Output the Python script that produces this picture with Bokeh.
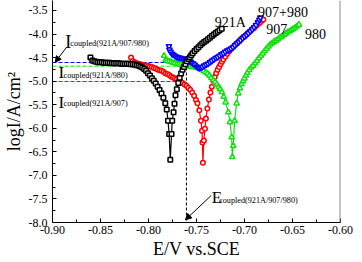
from bokeh.plotting import figure
from bokeh.models import FixedTicker, Label, Arrow, NormalHead, Span
from bokeh.embed import file_html
from bokeh.resources import INLINE

# Potentiodynamic polarisation curves (E in V vs. SCE, log current density)
e_921a = [-0.8605, -0.8585, -0.8565, -0.8545, -0.8525, -0.8505, -0.8485, -0.8465,
          -0.8445, -0.8425, -0.8405, -0.8385, -0.8365, -0.8345, -0.8325, -0.8305,
          -0.8285, -0.8265, -0.8245, -0.8225, -0.8205, -0.8185, -0.8165, -0.8145,
          -0.8125, -0.8105, -0.8085, -0.8065, -0.8045, -0.8025, -0.8005, -0.7985,
          -0.7965, -0.7945, -0.7925, -0.7905, -0.7885, -0.7865, -0.7845, -0.7825,
          -0.7810, -0.7797, -0.7785, -0.7773,
          -0.7760, -0.7753, -0.7739, -0.7729, -0.7719, -0.7705, -0.7690, -0.7675,
          -0.7660, -0.7645, -0.7630, -0.7615, -0.7600, -0.7585, -0.7570, -0.7555,
          -0.7540, -0.7520, -0.7500, -0.7480, -0.7460, -0.7440, -0.7420, -0.7400,
          -0.7380, -0.7360, -0.7340, -0.7320, -0.7300, -0.7280, -0.7260, -0.7237]
i_921a = [-4.50, -4.56, -4.58, -4.59, -4.60, -4.60, -4.60, -4.61,
          -4.61, -4.61, -4.61, -4.62, -4.62, -4.62, -4.62, -4.62,
          -4.63, -4.63, -4.63, -4.63, -4.63, -4.64, -4.64, -4.65,
          -4.66, -4.67, -4.69, -4.71, -4.74, -4.78, -4.83, -4.88,
          -4.94, -4.99, -5.05, -5.12, -5.19, -5.26, -5.35, -5.47,
          -5.60, -5.84, -6.12, -6.67,
          -6.12, -5.84, -5.66, -5.48, -5.30, -5.17, -5.04, -4.93,
          -4.84, -4.76, -4.70, -4.64, -4.58, -4.53, -4.49, -4.45,
          -4.41, -4.36, -4.32, -4.28, -4.24, -4.20, -4.17, -4.14,
          -4.11, -4.08, -4.04, -4.01, -3.98, -3.95, -3.92, -3.89]

e_907 = [-0.8182, -0.8165, -0.8145, -0.8125, -0.8105, -0.8085, -0.8065, -0.8045,
         -0.8025, -0.8005, -0.7985, -0.7965, -0.7945, -0.7925, -0.7905, -0.7885,
         -0.7865, -0.7845, -0.7825, -0.7805, -0.7785, -0.7765, -0.7745, -0.7725,
         -0.7705, -0.7685, -0.7665, -0.7645, -0.7625, -0.7605, -0.7585, -0.7565,
         -0.7545, -0.7525, -0.7505, -0.7490, -0.7471, -0.7454, -0.7443, -0.7438,
         -0.7433,
         -0.7423, -0.7412, -0.7402, -0.7387, -0.7371, -0.7355, -0.7340, -0.7325,
         -0.7310, -0.7295, -0.7280, -0.7265, -0.7250, -0.7235, -0.7220, -0.7200,
         -0.7180, -0.7160, -0.7140, -0.7120, -0.7100, -0.7080, -0.7060, -0.7040,
         -0.7020, -0.7000, -0.6980, -0.6960, -0.6940, -0.6920, -0.6900, -0.6880,
         -0.6860, -0.6840, -0.6820, -0.6804]
i_907 = [-4.50, -4.57, -4.60, -4.62, -4.63, -4.64, -4.65, -4.66,
         -4.67, -4.68, -4.69, -4.70, -4.72, -4.73, -4.75, -4.77,
         -4.78, -4.80, -4.83, -4.85, -4.87, -4.90, -4.92, -4.94,
         -4.96, -4.99, -5.01, -5.04, -5.07, -5.10, -5.14, -5.18,
         -5.24, -5.31, -5.40, -5.47, -5.62, -5.84, -6.05, -6.30,
         -6.73,
         -6.26, -6.01, -5.79, -5.58, -5.39, -5.24, -5.12, -4.99,
         -4.91, -4.83, -4.76, -4.70, -4.64, -4.59, -4.54, -4.48,
         -4.42, -4.37, -4.32, -4.28, -4.24, -4.20, -4.16, -4.12,
         -4.08, -4.05, -4.01, -3.97, -3.94, -3.90, -3.87, -3.83,
         -3.79, -3.76, -3.72, -3.69]

e_980 = [-0.7838, -0.7822, -0.7805, -0.7785, -0.7765, -0.7745, -0.7725, -0.7705,
         -0.7685, -0.7665, -0.7645, -0.7625, -0.7605, -0.7585, -0.7565, -0.7545,
         -0.7525, -0.7505, -0.7485, -0.7465, -0.7445, -0.7425, -0.7405, -0.7385,
         -0.7365, -0.7345, -0.7325, -0.7306, -0.7288, -0.7270, -0.7254, -0.7237,
         -0.7217, -0.7196, -0.7168, -0.7151, -0.7134, -0.7127,
         -0.7117, -0.7103, -0.7082, -0.7065, -0.7048, -0.7031, -0.7015, -0.7000,
         -0.6985, -0.6970, -0.6950, -0.6930, -0.6910, -0.6890, -0.6870, -0.6850,
         -0.6830, -0.6810, -0.6790, -0.6770, -0.6750, -0.6730, -0.6710, -0.6690,
         -0.6670, -0.6650, -0.6630, -0.6610, -0.6590, -0.6570, -0.6550, -0.6530,
         -0.6510, -0.6490, -0.6470, -0.6450, -0.6433]
i_980 = [-4.46, -4.55, -4.57, -4.58, -4.59, -4.61, -4.62, -4.63,
         -4.64, -4.65, -4.66, -4.67, -4.67, -4.68, -4.69, -4.70,
         -4.70, -4.71, -4.72, -4.74, -4.76, -4.78, -4.81, -4.84,
         -4.88, -4.93, -4.98, -5.02, -5.07, -5.12, -5.17, -5.23,
         -5.33, -5.45, -5.66, -5.87, -6.19, -6.61,
         -6.37, -5.84, -5.47, -5.26, -5.15, -5.06, -5.00, -4.94,
         -4.88, -4.82, -4.76, -4.71, -4.67, -4.62, -4.57, -4.51,
         -4.46, -4.41, -4.36, -4.31, -4.26, -4.22, -4.19, -4.16,
         -4.14, -4.11, -4.07, -4.05, -4.02, -3.99, -3.96, -3.94,
         -3.91, -3.89, -3.86, -3.83, -3.80]

e_907_980 = [-0.7787, -0.7782, -0.7770, -0.7755, -0.7740, -0.7720, -0.7700, -0.7680,
             -0.7660, -0.7640, -0.7620, -0.7600, -0.7580, -0.7560, -0.7540, -0.7520,
             -0.7500, -0.7485, -0.7470, -0.7455, -0.7440, -0.7420, -0.7400, -0.7380,
             -0.7360, -0.7340, -0.7320, -0.7300, -0.7280, -0.7260, -0.7240, -0.7220,
             -0.7200, -0.7180, -0.7160, -0.7140, -0.7120, -0.7100, -0.7080, -0.7060,
             -0.7040, -0.7020, -0.7000, -0.6980, -0.6960, -0.6940, -0.6920, -0.6900,
             -0.6880, -0.6860, -0.6845, -0.6835]
i_907_980 = [-4.26, -4.33, -4.38, -4.42, -4.44, -4.47, -4.49, -4.50,
             -4.51, -4.52, -4.53, -4.55, -4.57, -4.59, -4.62, -4.65,
             -4.69, -4.71, -4.72, -4.71, -4.70, -4.67, -4.65, -4.63,
             -4.60, -4.57, -4.54, -4.51, -4.49, -4.46, -4.43, -4.41,
             -4.38, -4.35, -4.33, -4.31, -4.28, -4.24, -4.20, -4.17,
             -4.13, -4.09, -4.05, -4.02, -3.98, -3.94, -3.90, -3.86,
             -3.81, -3.75, -3.70, -3.65]

# Coupled values
e_coupled = -0.7605
i_coupled_all = -4.604      # 921A/907/980
i_coupled_980 = -4.682      # 921A/980
i_coupled_907 = -5.007      # 921A/907

x_ticks = [-0.90, -0.85, -0.80, -0.75, -0.70, -0.65, -0.60]
x_tick_labels = ["-0.90", "-0.85", "-0.80", "-0.75", "-0.70", "-0.65", "-0.60"]
x_minor = [-0.875, -0.825, -0.775, -0.725, -0.675, -0.625]
y_ticks = [-8.0, -7.5, -7.0, -6.5, -6.0, -5.5, -5.0, -4.5, -4.0, -3.5]
y_tick_labels = ["-8.0", "-7.5", "-7.0", "-6.5", "-6.0", "-5.5", "-5.0", "-4.5", "-4.0", "-3.5"]
y_minor = [-7.75, -7.25, -6.75, -6.25, -5.75, -5.25, -4.75, -4.25, -3.75]

SERIF = "Liberation Serif"

p = figure(width=362, height=262, output_backend="svg", toolbar_location=None,
           x_range=(-0.90, -0.60), y_range=(-8.0, -3.288),
           min_border_left=49, min_border_right=22, min_border_top=0,
           min_border_bottom=40, background_fill_color="white",
           border_fill_color="white")
p.outline_line_color = None
p.grid.visible = False

for ax, ticks, labels, minor in ((p.xaxis[0], x_ticks, x_tick_labels, x_minor),
                                 (p.yaxis[0], y_ticks, y_tick_labels, y_minor)):
    ax.ticker = FixedTicker(ticks=ticks, minor_ticks=minor)
    ax.major_label_overrides = dict(zip(ticks, labels))
    ax.major_tick_in = 4
    ax.major_tick_out = 0
    ax.minor_tick_in = 3
    ax.minor_tick_out = 0
    ax.axis_line_color = "black"
    ax.major_label_text_font = SERIF
    ax.major_label_text_font_size = "12px"
    ax.major_label_text_color = "black"
    ax.axis_label_text_font = SERIF
    ax.axis_label_text_font_style = "normal"
    ax.axis_label_text_font_size = "18px"
    ax.axis_label_text_color = "black"

p.xaxis.axis_label = "E/V vs.SCE"
p.xaxis.major_label_standoff = 3
p.xaxis.axis_label_standoff = 2
p.yaxis.axis_label = "logI/A/cm\u00b2"
p.yaxis.major_label_standoff = 5
p.yaxis.axis_label_standoff = 2

# right frame edge
p.add_layout(Span(location=-0.60, dimension="height", line_color="#8a8a8a",
                  line_width=2))

# dashed guide lines for the coupled current / potential
p.line([-0.90, e_coupled], [i_coupled_all, i_coupled_all], line_color="#0000ff",
       line_dash="4 2", line_width=1)
p.line([-0.90, -0.765], [i_coupled_980, i_coupled_980], line_color="#00ee00",
       line_dash="4 2", line_width=1)
p.line([-0.90, -0.768], [i_coupled_907, i_coupled_907], line_color="#ff0000",
       line_dash="4 2", line_width=1)
p.line([e_coupled, e_coupled], [i_coupled_all, -8.0], line_color="black",
       line_dash="3 2", line_width=1)

series = [
    (e_907, i_907, "#ff0000", "circle", 4.5),
    (e_980, i_980, "#11e011", "triangle", 5.5),
    (e_907_980, i_907_980, "#0000ff", "inverted_triangle", 5.5),
    (e_921a, i_921a, "black", "square", 4.5),
]
for ex, iy, col, mk, sz in series:
    p.line(ex, iy, line_color=col, line_width=1.2)
    p.scatter(ex, iy, marker=mk, size=sz, line_color=col, fill_color="white",
              line_width=1.5)

def text(x, y, s, size):
    p.add_layout(Label(x=x, y=y, text=s, text_font=SERIF, text_font_size=size,
                       text_color="black", text_baseline="alphabetic",
                       text_align="left"))

# curve names
text(-0.7309, -3.748, "921A", "14px")
text(-0.6859, -3.536, "907+980", "14px")
text(-0.6773, -3.889, "907", "14px")
text(-0.6371, -3.995, "980", "14px")

# coupled current labels
text(-0.8866, -4.179, "I", "18px")
text(-0.8815, -4.20, "coupled(921A/907/980)", "8.2px")
text(-0.8938, -4.816, "I", "17px")
text(-0.8885, -4.87, "coupled(921A/980)", "8.2px")
text(-0.8938, -5.453, "I", "17px")
text(-0.8885, -5.48, "coupled(921A/907)", "8.2px")

# coupled potential label
text(-0.734, -7.463, "E", "17px")
text(-0.7265, -7.53, "coupled(921A/907/980)", "8.2px")

p.add_layout(Arrow(end=NormalHead(size=6, fill_color="black", line_color="black"),
                   x_start=-0.8853, y_start=-4.279, x_end=-0.8972, y_end=-4.598,
                   line_color="black", line_width=1))
p.add_layout(Arrow(end=NormalHead(size=6, fill_color="black", line_color="black"),
                   x_start=-0.7347, y_start=-7.427, x_end=-0.7615, y_end=-7.943,
                   line_color="black", line_width=1))

open("out.html", "w").write(file_html(p, INLINE))
